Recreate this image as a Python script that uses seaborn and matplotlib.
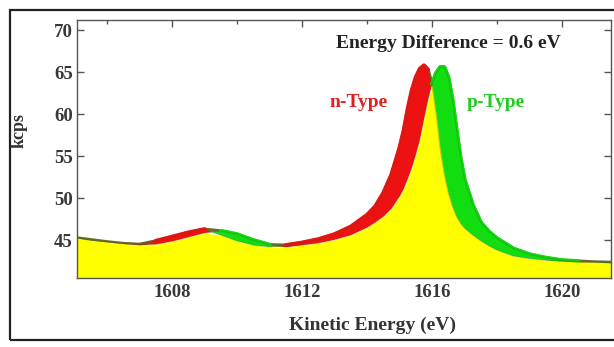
import numpy as np
import pandas as pd
import seaborn as sns
import matplotlib
matplotlib.use("Agg")
import matplotlib.pyplot as plt
from matplotlib.patches import Rectangle
from matplotlib.ticker import MultipleLocator

# kinetic energy grid (eV)
energy = [1605.0, 1605.5, 1606.0, 1606.5, 1607.0, 1607.5, 1608.0, 1608.5, 1609.0, 1609.5,
          1610.0, 1610.5, 1611.0, 1611.5, 1612.0, 1612.5, 1613.0, 1613.5, 1614.0, 1614.25,
          1614.5, 1614.75, 1615.0, 1615.125, 1615.25, 1615.375, 1615.5, 1615.625, 1615.75, 1615.875,
          1616.0, 1616.125, 1616.25, 1616.375, 1616.5, 1616.625, 1616.75, 1616.875, 1617.0, 1617.25,
          1617.5, 1617.75, 1618.0, 1618.5, 1619.0, 1619.5, 1620.0, 1620.5, 1621.0, 1621.5]

# n-type spectrum (kcps)
n_type = [45.3, 45.0, 44.8, 44.6, 44.5, 44.9, 45.4, 45.9, 46.3, 45.6,
          44.9, 44.4, 44.2, 44.4, 44.7, 45.1, 45.7, 46.6, 48.0, 49.0,
          50.6, 52.8, 56.0, 58.0, 60.6, 62.8, 64.4, 65.4, 65.8, 65.3,
          63.4, 60.0, 55.8, 52.8, 50.6, 49.0, 47.8, 47.0, 46.4, 45.6,
          44.9, 44.3, 43.8, 43.1, 42.8, 42.6, 42.5, 42.4, 42.4, 42.3]

# p-type spectrum (kcps)
p_type = [45.3, 45.05, 44.8, 44.6, 44.45, 44.5, 44.85, 45.35, 45.85, 46.1,
          45.7, 45.0, 44.45, 44.2, 44.4, 44.65, 45.05, 45.6, 46.5, 47.1,
          47.8, 48.75, 50.2, 51.1, 52.3, 53.6, 55.2, 57.0, 59.4, 61.7,
          63.6, 64.9, 65.6, 65.6, 64.4, 61.8, 58.2, 54.8, 52.2, 49.2,
          47.1, 46.0, 45.2, 44.0, 43.3, 42.9, 42.6, 42.5, 42.4, 42.35]

df = pd.DataFrame({"energy": energy, "n": n_type, "p": p_type})

sns.set_theme(style="ticks")
plt.rcParams["font.family"] = ["Liberation Serif", "DejaVu Serif"]

fig = plt.figure(figsize=(6.14, 3.47), dpi=100)
ax = fig.add_axes([0.1254, 0.199, 0.8696, 0.743])

x = df["energy"].values
n = df["n"].values
p = df["p"].values
low = np.minimum(n, p)
high = np.maximum(n, p)

# where the two scans sit on top of each other the trace looks dark olive
ax.plot(x, high, color="#6e6a2c", lw=2.4, solid_capstyle="round", zorder=1)

# coloured difference bands, drawn with a thick edge so they look like the scan traces
n_top = np.where(n - p > 0.1, n, np.nan)
p_top = np.where(p - n > 0.1, p, np.nan)
ax.fill_between(x, p, n, where=n >= p, interpolate=True, color="#ee1111", lw=0, zorder=1)
ax.fill_between(x, n, p, where=p >= n, interpolate=True, color="#11dd11", lw=0, zorder=1)
ax.plot(x, n_top, color="#ee1111", lw=3, solid_capstyle="round", solid_joinstyle="round", zorder=1)
ax.plot(x, p_top, color="#11dd11", lw=3, solid_capstyle="round", solid_joinstyle="round", zorder=1)

# overlap of both spectra
ax.fill_between(x, 40.0, low, color="#ffff00", lw=0, zorder=2)

sns.lineplot(data=df, x="energy", y="n", ax=ax, color="#5a4a20", lw=0.8, alpha=0.3, zorder=3)
sns.lineplot(data=df, x="energy", y="p", ax=ax, color="#3a5a20", lw=0.8, alpha=0.3, zorder=3)

ax.set_xlim(1605.08, 1621.5)
ax.set_ylim(40.5, 71.2)
ax.xaxis.set_major_locator(MultipleLocator(4))
ax.xaxis.set_minor_locator(MultipleLocator(2))
ax.set_xticks([1608, 1612, 1616, 1620])
ax.set_yticks([45, 50, 55, 60, 65, 70])
ax.tick_params(which="both", direction="in", top=True, right=True, color="#555555")
ax.tick_params(which="major", length=5, width=1)
ax.tick_params(which="minor", length=3, width=1)
ax.tick_params(axis="x", labelsize=13.5, pad=4)
ax.tick_params(axis="y", labelsize=13.5, pad=3)
for lab in ax.get_xticklabels() + ax.get_yticklabels():
    lab.set_fontweight("bold")
    lab.set_color("#383838")
for s in ax.spines.values():
    s.set_color("#555555")
    s.set_linewidth(1.0)

ax.set_xlabel("Kinetic Energy (eV)", fontsize=14, fontweight="bold", color="#333333")
ax.set_ylabel("kcps", fontsize=13, fontweight="bold", color="#333333")
ax.xaxis.set_label_coords(0.553, -0.15)
ax.yaxis.set_label_coords(-0.092, 0.57)

ax.text(1616.5, 67.9, "Energy Difference = 0.6 eV", ha="center", va="baseline",
        fontsize=14, fontweight="bold", color="#222222")
ax.text(1613.75, 60.9, "n-Type", ha="center", va="baseline",
        fontsize=14, fontweight="bold", color="#e02020")
ax.text(1617.97, 60.9, "p-Type", ha="center", va="baseline",
        fontsize=14, fontweight="bold", color="#22cc22")

fig.patches.append(Rectangle((0.017, 0.02), 1.0, 0.951, transform=fig.transFigure,
                             fill=False, edgecolor="#222222", lw=1.6))

fig.savefig("out.png", dpi=100)
